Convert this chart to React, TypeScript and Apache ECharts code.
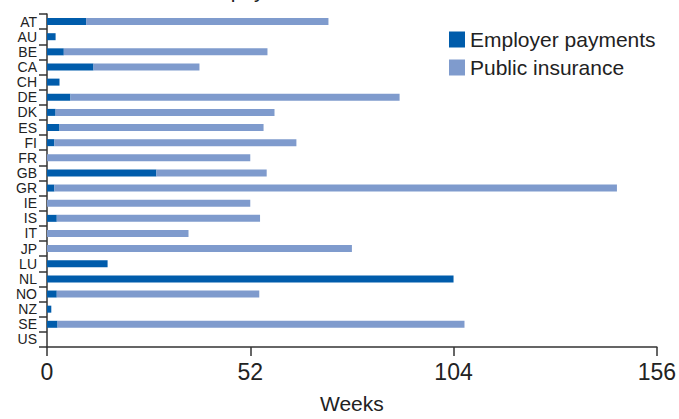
import React, { useEffect, useRef } from "react";
import * as echarts from "echarts";

const countries = ["AT","AU","BE","CA","CH","DE","DK","ES","FI","FR","GB","GR","IE","IS","IT","JP","LU","NL","NO","NZ","SE","US"];
const employerPayments = [10, 2.2, 4.3, 11.9, 3.2, 6, 2.2, 3.2, 1.9, 0, 28, 1.9, 0, 2.5, 0, 0, 15.5, 104, 2.5, 1.1, 2.7, 0];
const publicInsurance = [62, 0, 52.1, 27.1, 0, 84.2, 56, 52.2, 61.9, 52, 28.2, 143.9, 52, 52, 36.2, 78, 0, 0, 51.8, 0, 104.1, 0];
const xTicks = { min: 0, max: 156, interval: 52 };
const titleText = "Sick pay and source of funds";

const FONT = "'Liberation Sans', Arial, sans-serif";

export default function App() {
  const ref = useRef<HTMLDivElement>(null);
  useEffect(() => {
    if (!ref.current) return;
    const chart = echarts.init(ref.current, null, { renderer: "svg" });
    chart.setOption({
      animation: false,
      textStyle: { fontFamily: FONT },
      graphic: [
        {
          type: "text",
          x: 320,
          y: 1,
          style: {
            text: titleText,
            fontSize: 21,
            fontFamily: FONT,
            fill: "#222",
            textAlign: "center",
            textVerticalAlign: "bottom",
          },
        },
      ],
      legend: {
        orient: "vertical",
        left: 444,
        top: 24,
        itemWidth: 16,
        itemHeight: 16,
        itemGap: 7,
        icon: "rect",
        textStyle: { fontSize: 21, color: "#222", fontFamily: FONT },
        data: ["Employer payments", "Public insurance"],
      },
      grid: { left: 47, right: 21.5, top: 14, bottom: 63.3, containLabel: false },
      xAxis: {
        type: "value",
        min: xTicks.min,
        max: xTicks.max,
        interval: xTicks.interval,
        splitLine: { show: false },
        axisLine: { show: true, lineStyle: { color: "#333", width: 1.5 } },
        axisTick: { show: true, length: 9, lineStyle: { color: "#333", width: 1.5 } },
        axisLabel: { fontSize: 23, color: "#222", margin: 13, fontFamily: FONT },
        name: "Weeks",
        nameLocation: "middle",
        nameGap: 46,
        nameTextStyle: { fontSize: 21, color: "#222", fontFamily: FONT },
      },
      yAxis: {
        type: "category",
        inverse: true,
        data: countries,
        axisLine: { show: true, lineStyle: { color: "#333", width: 1.5 } },
        axisTick: { show: true, length: 8, interval: 0, lineStyle: { color: "#333", width: 1.5 } },
        axisLabel: { fontSize: 14, lineHeight: 14, color: "#222", margin: 10, interval: 0, fontFamily: FONT },
      },
      series: [
        {
          name: "Employer payments",
          type: "bar",
          stack: "total",
          barWidth: 7,
          itemStyle: { color: "#005CAB" },
          data: employerPayments,
        },
        {
          name: "Public insurance",
          type: "bar",
          stack: "total",
          barWidth: 7,
          itemStyle: { color: "#7F9BCD" },
          data: publicInsurance,
        },
      ],
    });
    return () => chart.dispose();
  }, []);
  return <div ref={ref} style={{ width: 679, height: 419, position: "absolute", left: 0, top: 0 }} />;
}
